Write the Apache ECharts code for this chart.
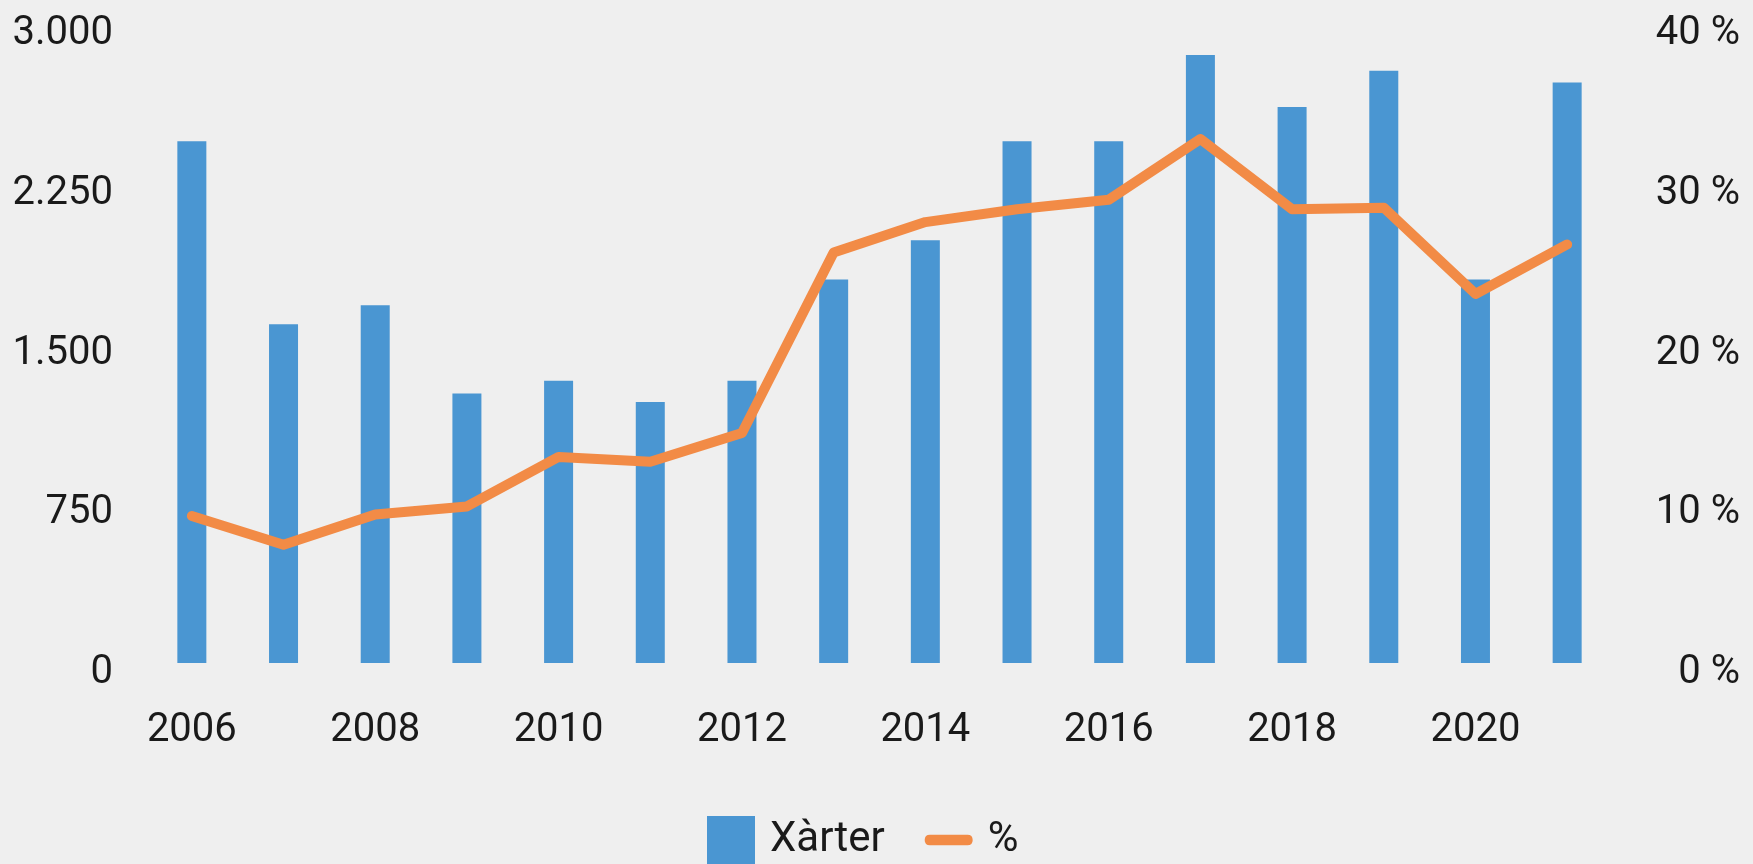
<!DOCTYPE html>
<html>
<head>
<meta charset="utf-8">
<script src="https://cdn.jsdelivr.net/npm/echarts@6/dist/echarts.min.js"></script>
<style>
  html, body { margin: 0; padding: 0; background: #efefef; }
  #chart { width: 1753px; height: 864px; }
</style>
</head>
<body>
<div id="chart"></div>
<script>
const years = ['2006', '2007', '2008', '2009', '2010', '2011', '2012', '2013',
  '2014', '2015', '2016', '2017', '2018', '2019', '2020', '2021'];
const charters = [2450, 1590, 1680, 1265, 1325, 1225, 1325, 1800,
  1985, 2450, 2450, 2855, 2610, 2780, 1800, 2725];
const share = [9.2, 7.4, 9.3, 9.8, 12.9, 12.6, 14.4, 25.7,
  27.6, 28.4, 29.0, 32.8, 28.4, 28.5, 23.1, 26.2];
const leftTicks = [0, 750, 1500, 2250, 3000];
const rightTicks = [0, 10, 20, 30, 40];

const font = 'Roboto, "DejaVu Sans", sans-serif';
const chart = echarts.init(document.getElementById('chart'));

// tick labels sit a little below their tick in the original
const tickRich = { t: { fontSize: 40, color: '#1a1a1a', fontFamily: font, padding: [20, 0, 0, 0] } };

chart.setOption({
  backgroundColor: '#efefef',
  animation: false,
  textStyle: { fontFamily: font, color: '#1a1a1a' },
  grid: { left: 146, right: 140, top: 24, bottom: 201 },
  legend: {
    top: 811,
    left: 702,
    itemWidth: 48,
    itemHeight: 48,
    itemGap: 40,
    symbolKeepAspect: true,
    textStyle: { fontSize: 42, color: '#1a1a1a', fontFamily: font, padding: [0, 0, 0, 10] },
    data: [
      { name: 'Xàrter', icon: 'rect' },
      { name: '%', icon: 'path://M5,0 L41,0 Q46,0 46,5 Q46,10 41,10 L5,10 Q0,10 0,5 Q0,0 5,0 Z' }
    ]
  },
  xAxis: {
    type: 'category',
    data: years,
    axisLine: { show: false },
    axisTick: { show: false },
    axisLabel: { interval: 1, fontSize: 40, margin: 48, color: '#1a1a1a' }
  },
  yAxis: [
    {
      type: 'value',
      min: leftTicks[0],
      max: leftTicks[leftTicks.length - 1],
      interval: leftTicks[1] - leftTicks[0],
      splitLine: { show: false },
      axisLine: { show: false },
      axisTick: { show: false },
      axisLabel: {
        margin: 33,
        rich: tickRich,
        formatter: v => '{t|' + v.toString().replace(/\B(?=(\d{3})+(?!\d))/g, '.') + '}'
      }
    },
    {
      type: 'value',
      min: rightTicks[0],
      max: rightTicks[rightTicks.length - 1],
      interval: rightTicks[1] - rightTicks[0],
      splitLine: { show: false },
      axisLine: { show: false },
      axisTick: { show: false },
      axisLabel: {
        margin: 127,
        align: 'right',
        rich: tickRich,
        formatter: v => '{t|' + v + ' %}'
      }
    }
  ],
  series: [
    {
      name: 'Xàrter',
      type: 'bar',
      data: charters,
      barWidth: 29,
      itemStyle: { color: '#4a96d2' }
    },
    {
      name: '%',
      type: 'line',
      yAxisIndex: 1,
      data: share,
      showSymbol: false,
      symbol: 'none',
      lineStyle: { color: '#f28b46', width: 10, cap: 'round', join: 'round' },
      itemStyle: { color: '#f28b46' }
    }
  ]
});
</script>
</body>
</html>
